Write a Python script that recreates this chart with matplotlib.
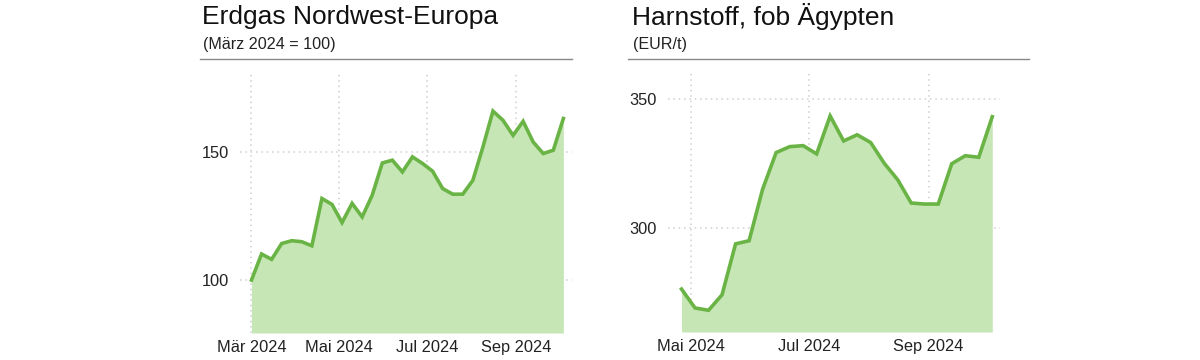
import matplotlib
matplotlib.use("Agg")
import matplotlib.pyplot as plt
import pandas as pd

plt.rcParams['font.family'] = ['Liberation Sans', 'DejaVu Sans']

gas_title = "Erdgas Nordwest-Europa"
gas_sub = "(März 2024 = 100)"
gas_dates = pd.date_range("2024-03-01", periods=32, freq="7D")
gas_values = [100, 110.2, 108.1, 114.3, 115.4, 115.0, 113.4, 131.9, 129.6, 122.5,
              130.0, 124.7, 133.2, 145.8, 146.9, 142.3, 148.2, 145.6, 142.6, 135.8,
              133.6, 133.6, 139.0, 152.0, 166.1, 162.5, 156.6, 162.1, 154.0, 149.5,
              150.8, 163.2]
gas_yticks = [100, 150]
gas_xticks = ["2024-03-01", "2024-05-01", "2024-07-01", "2024-09-01"]
gas_xlabels = ["Mär 2024", "Mai 2024", "Jul 2024", "Sep 2024"]

urea_title = "Harnstoff, fob Ägypten"
urea_sub = "(EUR/t)"
urea_dates = pd.date_range("2024-04-26", periods=24, freq="7D")
urea_values = [276.4, 269.1, 268.2, 274.2, 293.9, 295.1, 315.0, 329.2, 331.5, 331.9,
               328.7, 343.4, 333.7, 336.1, 333.1, 325.1, 318.7, 309.7, 309.3, 309.3,
               324.9, 328.0, 327.4, 343.1]
urea_yticks = [300, 350]
urea_xticks = ["2024-05-01", "2024-07-01", "2024-09-01"]
urea_xlabels = ["Mai 2024", "Jul 2024", "Sep 2024"]

LINE = "#6ab446"
FILL = "#c6e6b6"
GRID = "#cfcfcf"

fig = plt.figure(figsize=(12, 3.6), dpi=100)
W, H = 1200, 360

def panel(rect, dates, values, yticks, xticks, xlabels, xlim, ylim, title, sub, title_x, rule):
    l, t, r, b = rect
    ax = fig.add_axes([l / W, 1 - b / H, (r - l) / W, (b - t) / H])
    ax.fill_between(dates, values, ylim[0], color=FILL, lw=0, zorder=2)
    ax.plot(dates, values, color=LINE, lw=2.6, zorder=3, solid_joinstyle='miter')
    ax.set_xlim(pd.Timestamp(xlim[0]), pd.Timestamp(xlim[1]))
    ax.set_ylim(*ylim)
    ax.set_yticks(yticks)
    ax.set_yticklabels([str(v) for v in yticks])
    ax.set_xticks([pd.Timestamp(d) for d in xticks])
    ax.set_xticklabels(xlabels)
    ax.grid(True, color=GRID, ls=(0, (1, 2.5)), lw=1.1, zorder=1)
    for s in ax.spines.values():
        s.set_visible(False)
    ax.tick_params(length=0, labelsize=11.8, colors="#222222", pad=5)
    ax.tick_params(axis='y', pad=8)
    fig.text(title_x / W, 1 - 17 / H, title, fontsize=19, color="#111111", va='center')
    fig.text((title_x + 1) / W, 1 - 45 / H, sub, fontsize=11.6, color="#222222", va='center')
    fig.add_artist(plt.Line2D([rule[0] / W, rule[1] / W], [1 - 59 / H, 1 - 59 / H],
                              color="#888888", lw=1.0))
    return ax

panel((240, 73, 572, 333), gas_dates, gas_values, gas_yticks, gas_xticks, gas_xlabels,
      ("2024-02-22", "2024-10-10"), (79.3, 181), gas_title, gas_sub, 202, (200, 572))
panel((668, 73, 1000, 332), urea_dates, urea_values, urea_yticks, urea_xticks, urea_xlabels,
      ("2024-04-19", "2024-10-08"), (259.8, 360), urea_title, urea_sub, 632, (628, 1029))

fig.savefig("out.png", dpi=100, facecolor="white")
